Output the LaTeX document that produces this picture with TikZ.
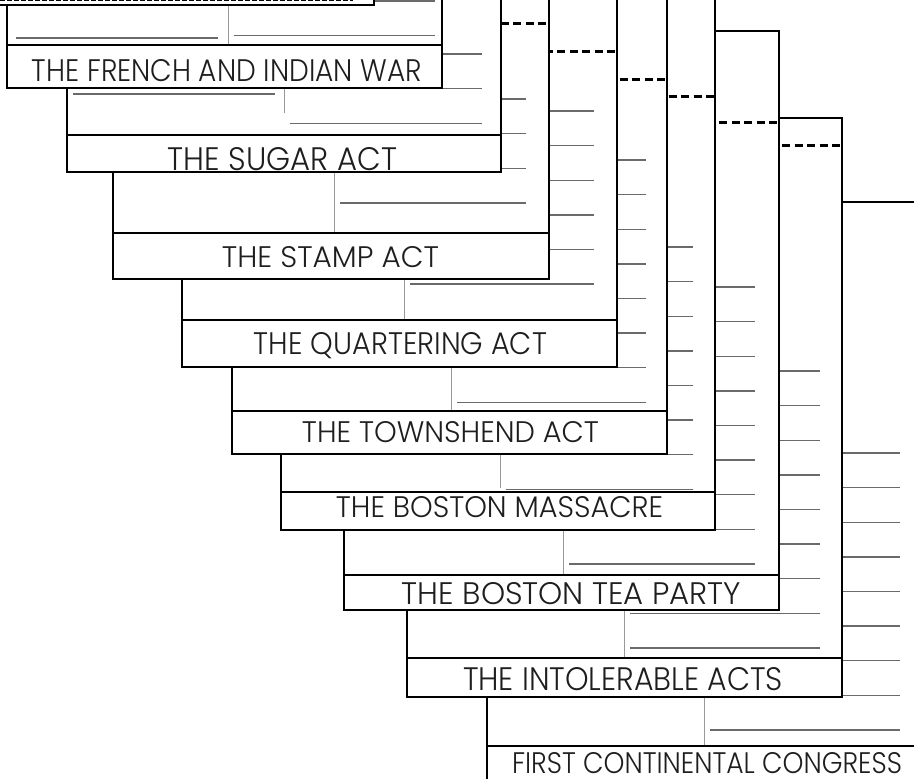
\documentclass[tikz,border=0pt]{standalone}
\usepackage{fontspec}
\newfontfamily\ttlfont{Poppins Light}
\definecolor{lnc}{HTML}{6A6A6A}
\definecolor{txc}{HTML}{1E1E1E}
\tikzset{
  edge/.style={line width=2.8pt, line join=miter},
  wline/.style={line width=1.4pt, lnc},
  divline/.style={line width=0.9pt, black!40},
  fold/.style={line width=3pt, dash pattern=on 8pt off 4.5pt},
  ttl/.style={inner sep=0pt, text=txc, font=\ttlfont}
}
\begin{document}
\begin{tikzpicture}[x=1pt,y=-1pt]
\useasboundingbox (0,0) rectangle (914,779);
\clip (0,0) rectangle (914,779);
\foreach \l/\r/\t/\b/\d/\f/\n/\dv/\de/\e in {
  487/922/746/781/-60/453/9/704/746/22,
  407/842/658/697/145/371/9/624/658/22,
  344/779/575/610/122/287/9/563/575/24,
  281/715/492/530/96/247/8/500/488/22,
  232/667/411/454/79/160/8/451/411/21,
  182/617/320/367/51/111/6/404/320/23,
  113/549/233/279/23/99/4/334/233/23,
  67/501/135/172/-60/54/3/284/113/19,
  7/442/45/88/-60/1/2/228/45/7}
{
  \fill[white] (\l,{\b-579}) rectangle (\r,\b);
  \foreach \i in {1,...,\n}
    \draw[wline] ({\dv+6},{\f+(\i-1)*34.6}) -- ({\r-\e},{\f+(\i-1)*34.6});
  \draw[divline] (\dv,{\t-70}) -- (\dv,\de);
  \draw[fold] (\l,\d) -- (\r,\d);
  \draw[edge] (\l,\t) -- (\r,\t);
  \draw[edge] (\l,{\b-579}) rectangle (\r,\b);
}
\draw[wline] (16,38) -- (218,38);
\draw[wline] (73,94) -- (275,94);
\fill[white] (-70,-600) rectangle (374,5);
\draw[edge] (-70,-600) rectangle (374,5);
\draw[line width=1pt, dash pattern=on 4.5pt off 2.5pt] (0,0.8) -- (353,0.8);
\node[ttl] (french) at (227,71) {\resizebox{390pt}{22pt}{THE FRENCH AND INDIAN WAR}};
\node[ttl] (sugar) at (282.5,159.5) {\resizebox{229pt}{23pt}{THE SUGAR ACT}};
\node[ttl] (stamp) at (330.5,257.5) {\resizebox{217pt}{21pt}{THE STAMP ACT}};
\node[ttl] (quarter) at (400.5,346) {\resizebox{293pt}{22pt}{THE QUARTERING ACT}};
\node[ttl] (townshend) at (450.5,432.5) {\resizebox{297pt}{21pt}{THE TOWNSHEND ACT}};
\node[ttl] (massacre) at (499.5,507.5) {\resizebox{327pt}{21pt}{THE BOSTON MASSACRE}};
\node[ttl] (teaparty) at (571.5,594) {\resizebox{339pt}{22pt}{THE BOSTON TEA PARTY}};
\node[ttl] (intolerable) at (623,679.5) {\resizebox{320pt}{23pt}{THE INTOLERABLE ACTS}};
\node[ttl] (congress) at (707,763.5) {\resizebox{390pt}{21pt}{FIRST CONTINENTAL CONGRESS}};
\end{tikzpicture}
\end{document}
